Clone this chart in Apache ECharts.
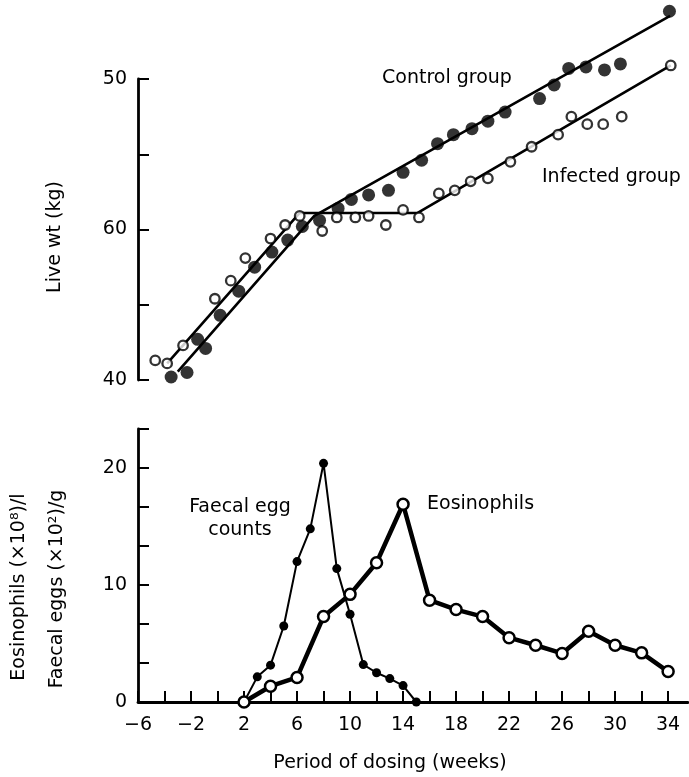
<!DOCTYPE html>
<html>
<head>
<meta charset="utf-8">
<title>Live weight, eosinophils and faecal eggs</title>
<script src="https://cdn.jsdelivr.net/npm/echarts@6/dist/echarts.min.js"></script>
<style>
  html, body { margin: 0; padding: 0; background: #fff; }
  #chart { width: 689px; height: 777px; }
</style>
</head>
<body>
<div id="chart"></div>
<script>
// top panel: live weight (kg) against week of dosing
const controlWeeks = [-3.5, -2.3, -1.5, -0.9, 0.2, 1.6, 2.8, 4.1, 5.3, 6.4, 7.7, 9.1, 10.1, 11.4, 12.9, 14.0, 15.4, 16.6, 17.8, 19.2, 20.4, 21.7, 24.3, 25.4, 26.5, 27.8, 29.2, 30.4, 34.1];
const controlWeights = [40.2, 40.5, 42.7, 42.1, 44.3, 45.9, 47.5, 48.5, 49.3, 50.2, 50.6, 51.4, 52.0, 52.3, 52.6, 53.8, 54.6, 55.7, 56.3, 56.7, 57.2, 57.8, 58.7, 59.6, 60.7, 60.8, 60.6, 61.0, 64.5];
const infectedWeeks = [-4.7, -3.8, -2.6, -0.2, 1.0, 2.1, 4.0, 5.1, 6.2, 7.9, 9.0, 10.4, 11.4, 12.7, 14.0, 15.2, 16.7, 17.9, 19.1, 20.4, 22.1, 23.7, 25.7, 26.7, 27.9, 29.1, 30.5, 34.2];
const infectedWeights = [41.3, 41.1, 42.3, 45.4, 46.6, 48.1, 49.4, 50.3, 50.9, 49.9, 50.8, 50.8, 50.9, 50.3, 51.3, 50.8, 52.4, 52.6, 53.2, 53.4, 54.5, 55.5, 56.3, 57.5, 57.0, 57.0, 57.5, 60.9];

// fitted lines, by break points
const controlFitWeeks = [-3.0, 7.3, 34.15];
const controlFitWeights = [40.55, 50.9, 64.2];
const infectedFitWeeks = [-3.8, 6.2, 15.1, 34.2];
const infectedFitWeights = [41.1, 51.1, 51.1, 60.9];

// weight axis labels as printed
const weightTickValues = [40, 50, 60];
const weightTickLabels = ['40', '60', '50'];

// bottom panel
const faecalWeeks = [2, 3, 4, 5, 6, 7, 8, 9, 10, 11, 12, 13, 14, 15];
const faecalEggs = [0, 2.15, 3.15, 6.5, 12.0, 14.8, 20.4, 11.4, 7.5, 3.2, 2.5, 2.0, 1.4, 0];
const eosWeeks = [2, 4, 6, 8, 10, 12, 14, 16, 18, 20, 22, 24, 26, 28, 30, 32, 34];
const eosCounts = [0, 1.35, 2.1, 7.3, 9.2, 11.9, 16.9, 8.7, 7.9, 7.3, 5.5, 4.85, 4.15, 6.05, 4.85, 4.2, 2.6];

const weekTicks = [-6, -4, -2, 0, 2, 4, 6, 8, 10, 12, 14, 16, 18, 20, 22, 24, 26, 28, 30, 32, 34];
const weekLabels = [-6, -2, 2, 6, 10, 14, 18, 22, 26, 30, 34];
const countTicks = [0, 10 / 3, 20 / 3, 10, 40 / 3, 50 / 3, 20, 70 / 3];
const countLabels = [0, 10, 20];

const FONT = 'DejaVu Sans';
const pairs = (xs, ys) => xs.map((x, i) => [x, ys[i]]);

const axisLine = { show: true, onZero: false, lineStyle: { color: '#000', width: 2.8 } };
const tick = { inside: true, length: 11, lineStyle: { color: '#000', width: 2 } };
const label = { color: '#000', fontSize: 19, fontFamily: FONT };

const chart = echarts.init(document.getElementById('chart'));
chart.setOption({
  animation: false,
  backgroundColor: '#fff',
  grid: [
    { left: 138, right: 1, top: 79, height: 301 },
    { left: 138, right: 1, top: 429, height: 273 }
  ],
  xAxis: [
    { gridIndex: 0, type: 'value', min: -6, max: 35.5, show: false },
    {
      gridIndex: 1, type: 'value', min: -6, max: 35.5, interval: 2,
      axisLine: axisLine,
      axisTick: Object.assign({}, tick, { customValues: weekTicks }),
      axisLabel: Object.assign({}, label, {
        margin: 14,
        customValues: weekLabels,
        formatter: v => String(v).replace('-', '\u2212')
      }),
      splitLine: { show: false }
    }
  ],
  yAxis: [
    {
      gridIndex: 0, type: 'value', min: 40, max: 60, interval: 5,
      axisLine: axisLine,
      axisTick: tick,
      axisLabel: Object.assign({}, label, {
        margin: 11,
        formatter: v => {
          const i = weightTickValues.indexOf(v);
          return i >= 0 ? weightTickLabels[i] : '';
        }
      }),
      splitLine: { show: false }
    },
    {
      gridIndex: 1, type: 'value', min: 0, max: 70 / 3,
      axisLine: axisLine,
      axisTick: Object.assign({}, tick, { customValues: countTicks }),
      axisLabel: Object.assign({}, label, { margin: 11, customValues: countLabels }),
      splitLine: { show: false }
    }
  ],
  series: [
    {
      name: 'Control fit', type: 'line', xAxisIndex: 0, yAxisIndex: 0,
      data: pairs(controlFitWeeks, controlFitWeights), symbol: 'none', clip: false,
      lineStyle: { color: '#000', width: 2.6 }
    },
    {
      name: 'Infected fit', type: 'line', xAxisIndex: 0, yAxisIndex: 0,
      data: pairs(infectedFitWeeks, infectedFitWeights), symbol: 'none', clip: false,
      lineStyle: { color: '#000', width: 2.6 }
    },
    {
      name: 'Control group', type: 'scatter', xAxisIndex: 0, yAxisIndex: 0,
      data: pairs(controlWeeks, controlWeights), symbol: 'circle', symbolSize: 13, clip: false,
      itemStyle: { color: '#000' }, z: 3
    },
    {
      name: 'Infected group', type: 'scatter', xAxisIndex: 0, yAxisIndex: 0,
      data: pairs(infectedWeeks, infectedWeights), symbol: 'circle', symbolSize: 9.5, clip: false,
      itemStyle: { color: '#fff', borderColor: '#000', borderWidth: 2.3 }, z: 3
    },
    {
      name: 'Faecal egg counts', type: 'line', xAxisIndex: 1, yAxisIndex: 1,
      data: pairs(faecalWeeks, faecalEggs), symbol: 'circle', symbolSize: 9,
      itemStyle: { color: '#000' }, lineStyle: { color: '#000', width: 2 }, z: 2
    },
    {
      name: 'Eosinophils', type: 'line', xAxisIndex: 1, yAxisIndex: 1,
      data: pairs(eosWeeks, eosCounts), symbol: 'circle', symbolSize: 11,
      itemStyle: { color: '#fff', borderColor: '#000', borderWidth: 2.5 },
      lineStyle: { color: '#000', width: 4.5 }, z: 3
    }
  ],
  graphic: [
    { type: 'text', x: 55, y: 237, rotation: Math.PI / 2,
      style: { text: 'Live wt (kg)', fill: '#000', font: '19px ' + FONT, align: 'center', verticalAlign: 'middle' } },
    { type: 'text', x: 19, y: 587, rotation: Math.PI / 2,
      style: { text: 'Eosinophils (\u00d710\u2078)/l', fill: '#000', font: '19px ' + FONT, align: 'center', verticalAlign: 'middle' } },
    { type: 'text', x: 57, y: 589, rotation: Math.PI / 2,
      style: { text: 'Faecal eggs (\u00d710\u00b2)/g', fill: '#000', font: '19px ' + FONT, align: 'center', verticalAlign: 'middle' } },
    { type: 'text', x: 382, y: 78,
      style: { text: 'Control group', fill: '#000', font: '19px ' + FONT, align: 'left', verticalAlign: 'middle' } },
    { type: 'text', x: 542, y: 177,
      style: { text: 'Infected group', fill: '#000', font: '19px ' + FONT, align: 'left', verticalAlign: 'middle' } },
    { type: 'text', x: 240, y: 519,
      style: { text: 'Faecal egg\ncounts', fill: '#000', font: '19px ' + FONT, align: 'center', verticalAlign: 'middle', lineHeight: 23 } },
    { type: 'text', x: 427, y: 504,
      style: { text: 'Eosinophils', fill: '#000', font: '19px ' + FONT, align: 'left', verticalAlign: 'middle' } },
    { type: 'text', x: 390, y: 763,
      style: { text: 'Period of dosing (weeks)', fill: '#000', font: '19px ' + FONT, align: 'center', verticalAlign: 'middle' } }
  ]
});
window.addEventListener('resize', () => chart.resize());
</script>
</body>
</html>
